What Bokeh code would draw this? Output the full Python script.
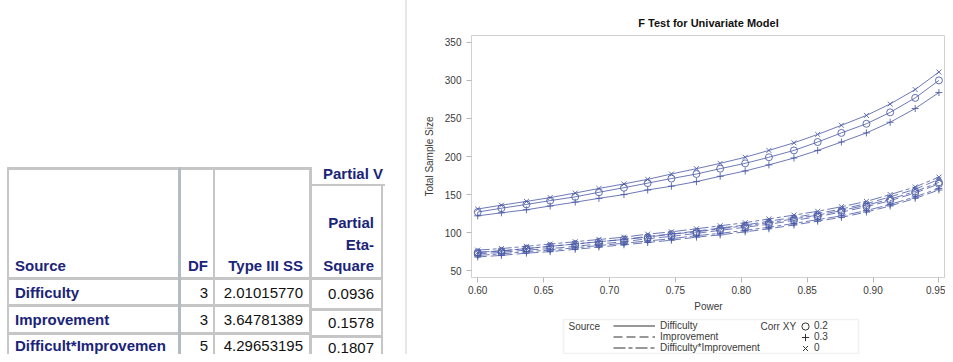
from bokeh.plotting import figure
from bokeh.models import (Range1d, FixedTicker, NumeralTickFormatter, Legend, LegendItem,
                          Label, BoxAnnotation, Spacer, Div)
from bokeh.layouts import row, column
from bokeh.embed import file_html
from bokeh.resources import INLINE

# ---------------- data ----------------
power = [0.600, 0.618, 0.637, 0.655, 0.674, 0.692, 0.711, 0.729, 0.747, 0.766,
         0.784, 0.803, 0.821, 0.840, 0.858, 0.876, 0.895, 0.913, 0.932, 0.950]

difficulty_c0 = [131, 136, 141, 146, 152, 158, 164, 170, 177, 184, 191, 199, 208, 218, 229, 241, 254, 269, 288, 311]
difficulty_c02 = [127, 132, 137, 142, 147, 153, 159, 165, 171, 177, 184, 191, 199, 208, 219, 231, 243, 258, 277, 300]
difficulty_c03 = [122, 126, 130, 135, 140, 145, 150, 156, 161, 167, 174, 181, 189, 198, 208, 219, 231, 245, 263, 284]

improvement_c0 = [74, 76, 79, 82, 85, 88, 91, 95, 98, 102, 106, 110, 115, 120, 125, 131, 138, 147, 157, 170]
improvement_c02 = [72, 74, 77, 79, 82, 85, 88, 92, 95, 99, 103, 107, 111, 116, 121, 127, 134, 142, 152, 164]
improvement_c03 = [68, 70, 73, 75, 78, 81, 84, 87, 90, 94, 97, 101, 105, 110, 115, 120, 127, 135, 145, 156]

interaction_c0 = [77, 79, 82, 85, 88, 91, 94, 98, 101, 105, 109, 113, 118, 123, 128, 134, 141, 150, 160, 173]
interaction_c02 = [74, 76, 79, 82, 85, 88, 91, 94, 98, 101, 105, 109, 113, 118, 123, 129, 136, 144, 154, 166]
interaction_c03 = [70, 72, 75, 77, 80, 83, 86, 89, 92, 96, 99, 103, 107, 112, 117, 122, 129, 137, 147, 158]

sources = ["Difficulty", "Improvement", "Difficulty*Improvement"]
corr_labels = ["0.2", "0.3", "0"]
y_ticks = [50, 100, 150, 200, 250, 300, 350]
x_ticks = [0.60, 0.65, 0.70, 0.75, 0.80, 0.85, 0.90, 0.95]

# table data
tbl_headers = ["Source", "DF", "Type III SS"]
tbl_eta_header = ["Partial", "Eta-", "Square"]
tbl_span_header = "Partial V"
tbl_source = ["Difficulty", "Improvement", "Difficult*Improvemen"]
tbl_df = ["3", "3", "5"]
tbl_ss = ["2.01015770", "3.64781389", "4.29653195"]
tbl_eta = ["0.0936", "0.1578", "0.1807"]

H = 354
TW = 385
NAVY = "#1a2478"
GRAY = "#c6c6c6"

# ---------------- table (left, HTML) ----------------
def bar(left, top, w, h, color=GRAY):
    return (f'<div style="position:absolute;left:{left}px;top:{top}px;width:{w}px;'
            f'height:{h}px;background:{color}"></div>')

def txt(s, mid, left=None, right=None, bold=True, color=NAVY):
    pos = f"left:{left}px;" if left is not None else f"right:{TW - right}px;text-align:right;"
    fw = "bold" if bold else "normal"
    return (f'<div style="position:absolute;{pos}top:{mid - 9}px;height:18px;line-height:18px;'
            f'white-space:nowrap;font-weight:{fw};color:{color}">{s}</div>')

parts = []
# horizontal rules
parts.append(bar(7, 167, 303, 3))
parts.append(bar(310, 184, 75, 2))
parts.append(bar(7, 277, 376, 3))
parts.append(bar(7, 304, 303, 3))
parts.append(bar(7, 332, 303, 3))
parts.append(bar(310, 308, 73, 3))
parts.append(bar(310, 335, 73, 3))
# vertical rules
parts.append(bar(7, 167, 2, H - 167))
parts.append(bar(178, 167, 3, H - 167, "#b3bcc4"))
parts.append(bar(213, 167, 2, H - 167))
parts.append(bar(309, 167, 3, H - 167))
parts.append(bar(381, 184, 2, H - 184))
# header texts
parts.append(txt(tbl_span_header, 174, left=323))
parts.append(txt(tbl_headers[0], 266, left=15))
parts.append(txt(tbl_headers[1], 266, right=208))
parts.append(txt(tbl_headers[2], 266, right=303))
for s, yy in zip(tbl_eta_header, [223, 245, 266]):
    parts.append(txt(s, yy, right=374))
# body
row_y = [292.5, 319.5, 346]
eta_y = [293.5, 322.5, 347.5]
for i in range(3):
    parts.append(txt(tbl_source[i], row_y[i], left=15))
    parts.append(txt(tbl_df[i], row_y[i], right=208, bold=False, color="#111111"))
    parts.append(txt(tbl_ss[i], row_y[i], right=303, bold=False, color="#111111"))
    parts.append(txt(tbl_eta[i], eta_y[i], right=374, bold=False, color="#111111"))

html = (f'<div style="position:relative;width:{TW}px;height:{H}px;overflow:hidden;background:#ffffff;'
        f'font-family:\'Liberation Sans\',Arial,sans-serif;font-size:15px">' + "".join(parts) + "</div>")
table = Div(text=html, width=TW, height=H, margin=(0, 0, 0, 0))

# ---------------- chart (right) ----------------
CW = 538
PH = 317
p = figure(width=CW, height=PH, x_range=Range1d(0.5953, 0.955), y_range=Range1d(41, 359),
           output_backend="svg", toolbar_location=None,
           min_border_left=64, min_border_right=0, min_border_top=35, min_border_bottom=40,
           title="F Test for Univariate Model")
p.title.align = "center"
p.title.text_font = "Liberation Sans"
p.title.text_font_size = "11px"
p.title.text_font_style = "bold"
p.title.text_color = "#111111"
p.title.standoff = 13
p.grid.visible = False
p.outline_line_color = "#d2d2d2"

TXT = "#3a3a3a"
for ax in (p.xaxis[0], p.yaxis[0]):
    ax.axis_line_color = "#d2d2d2"
    ax.major_tick_line_color = "#b8b8b8"
    ax.minor_tick_line_color = None
    ax.major_tick_out = 5
    ax.major_tick_in = 0
    ax.major_label_text_font = "Liberation Sans"
    ax.major_label_text_font_size = "10px"
    ax.major_label_text_color = TXT
    ax.axis_label_text_font = "Liberation Sans"
    ax.axis_label_text_font_size = "10px"
    ax.axis_label_text_font_style = "normal"
    ax.axis_label_text_color = TXT

p.xaxis.ticker = FixedTicker(ticks=x_ticks)
p.xaxis.formatter = NumeralTickFormatter(format="0.00")
p.xaxis.axis_label = "Power"
p.xaxis.major_label_standoff = 3
p.xaxis.axis_label_standoff = 4
p.yaxis.ticker = FixedTicker(ticks=y_ticks)
p.yaxis.axis_label = "Total Sample Size"
p.yaxis.major_label_standoff = 5
p.yaxis.axis_label_standoff = 7

BLUE = "#4858a4"
series = [
    (difficulty_c0, "solid", "x"), (difficulty_c02, "solid", "circle"), (difficulty_c03, "solid", "cross"),
    (improvement_c0, "9 4", "x"), (improvement_c02, "9 4", "circle"), (improvement_c03, "9 4", "cross"),
    (interaction_c0, "12 3 4 3", "x"), (interaction_c02, "12 3 4 3", "circle"), (interaction_c03, "12 3 4 3", "cross"),
]
for ys, dash, mk in series:
    p.line(power, ys, line_color=BLUE, line_width=1, line_alpha=0.8, line_dash=dash)
    p.scatter(power, ys, marker=mk, size=7, line_color=BLUE, fill_color=None,
              line_width=1, line_alpha=0.85)

# ---------------- legend panel (below chart) ----------------
LH = H - PH
lf = figure(width=CW, height=LH, x_range=Range1d(0, 1), y_range=Range1d(0, 1),
            output_backend="svg", toolbar_location=None,
            x_axis_location=None, y_axis_location=None,
            min_border_left=64, min_border_right=0, min_border_top=0, min_border_bottom=0)
lf.outline_line_color = None
lf.grid.visible = False

LG = "#333333"
# proxy renderers for the legend (their points lie outside the visible range)
off = [-5, -4]
src_r = [lf.line(off, off, line_color=LG, line_width=1.2, line_dash=d)
         for d in ["solid", "9 4", "12 3 4 3"]]
corr_r = [lf.scatter(off, off, marker=m, size=8, line_color=LG, fill_color=None, line_width=1)
          for m in ["circle", "cross", "x"]]

common = dict(padding=0, margin=0, spacing=0, border_line_color=None, background_fill_alpha=0,
              label_text_font="Liberation Sans", label_text_font_size="10px",
              label_text_color=TXT)
leg1 = Legend(items=[LegendItem(label=s, renderers=[r]) for s, r in zip(sources, src_r)],
              location=(142, 1), glyph_width=42, label_standoff=5,
              label_height=11, glyph_height=11, **common)
lf.add_layout(leg1)

# one legend per marker row so that the marker samples are drawn at full size
row_offsets = [8.5, 19.5, 30.5]   # row centres, pixels below the top of the legend panel
for lab, r, dy in zip(corr_labels, corr_r, row_offsets):
    lg = Legend(items=[LegendItem(label=lab, renderers=[r])],
                location=(325, LH - dy - 10),
                glyph_width=18, glyph_height=20, label_height=20, label_standoff=0, **common)
    lf.add_layout(lg)

box = BoxAnnotation(left=92, right=387, top=35, bottom=1,
                    left_units="screen", right_units="screen", top_units="screen", bottom_units="screen",
                    fill_alpha=0, line_color="#cfcfcf", line_width=1.5)
lf.add_layout(box)
for t_, lx in [("Source", 97), ("Corr XY", 289)]:
    lf.add_layout(Label(x=lx, y=28.5, x_units="screen", y_units="screen", text=t_,
                        text_font="Liberation Sans", text_font_size="10px", text_color=TXT,
                        text_baseline="middle"))

layout = row(table, Spacer(width=20, height=H),
             Spacer(width=2, height=H, styles={"background-color": "#e6e6e6"}),
             column(p, lf))

open("out.html", "w").write(file_html(layout, INLINE))
